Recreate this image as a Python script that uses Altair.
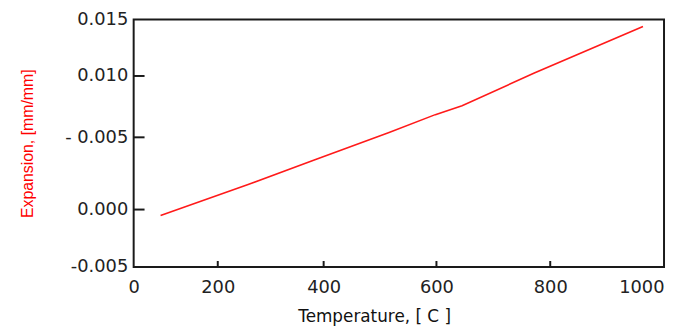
import altair as alt
import pandas as pd

# Data
temperature = [64, 256, 381, 516, 598, 645, 772, 963]
expansion = [-0.00052, 0.00171, 0.00342, 0.00540, 0.00685, 0.00758, 0.01026, 0.01439]

x_ticks = [0, 200, 400, 600, 800, 1000]
y_ticks = [-0.005, 0.000, 0.005, 0.010, 0.015]
y_tick_labels = ["-0.005", "0.000", "- 0.005", "0.010", "0.015"]
x_inner_ticks = [200, 400, 600, 800]
y_inner_ticks = [0.000, 0.005, 0.010]

W, H = 536, 250
# piecewise pixel positions of the ticks as drawn in the reference
x_range = [0, 85, 192, 306, 421, W]
y_range = [H, 192, 119, 57, 0]

line_df = pd.DataFrame({"t": temperature, "e": expansion})
xt_df = pd.DataFrame({"t": x_inner_ticks})
yt_df = pd.DataFrame({"e": y_inner_ticks})

xscale = alt.Scale(domain=x_ticks, range=x_range, nice=False, zero=False)
yscale = alt.Scale(domain=y_ticks, range=y_range, nice=False, zero=False)

expr = "''"
for v, lab in zip(y_ticks, y_tick_labels):
    expr = f"round(datum.value*1000) == {round(v*1000)} ? '{lab}' : ({expr})"

font = "DejaVu Sans"

xaxis = alt.Axis(values=x_ticks, format="d", title="Temperature, [ C ]",
                 grid=False, ticks=False, domain=False,
                 labelFont=font, labelFontSize=18, labelColor="#222222",
                 labelPadding=12,
                 labelAlign={"condition": {"test": "datum.value >= 1000", "value": "right"}, "value": "center"},
                 titleFont=font, titleFontSize=17, titleFontWeight="normal",
                 titleColor="#111111", titleX=243, titleY=50, titleBaseline="middle")
yaxis = alt.Axis(values=y_ticks, labelExpr=expr, title="Expansion, [mm/mm]",
                 grid=False, ticks=False, domain=False,
                 labelFont=font, labelFontSize=18, labelColor="#222222",
                 labelPadding=6, labelBaseline="middle",
                 titleFont="Liberation Sans", titleFontSize=16,
                 titleFontWeight="normal", titleColor="#ff0000",
                 titleX=-107, titleY=125, titleBaseline="middle", titleAngle=-90)

line = alt.Chart(line_df).mark_line(color="#ff1a1a", strokeWidth=1.6).encode(
    x=alt.X("t:Q", scale=xscale, axis=xaxis),
    y=alt.Y("e:Q", scale=yscale, axis=yaxis),
)

yt = alt.Chart(yt_df).mark_rule(color="#1a1a1a", strokeWidth=2).encode(
    y=alt.Y("e:Q", scale=yscale, axis=yaxis),
    x=alt.value(0), x2=alt.value(11),
)
xt = alt.Chart(xt_df).mark_rule(color="#1a1a1a", strokeWidth=2).encode(
    x=alt.X("t:Q", scale=xscale, axis=xaxis),
    y=alt.value(H), y2=alt.value(H - 6),
)

chart = alt.layer(line, yt, xt).properties(
    width=W, height=H,
    background="white",
    padding={"left": 127, "top": 10, "right": 2, "bottom": 60},
    autosize=alt.AutoSizeParams(type="none"),
).configure_view(stroke="#1a1a1a", strokeWidth=2)

chart.save("out.html", embed_options={"renderer": "svg", "actions": False})
